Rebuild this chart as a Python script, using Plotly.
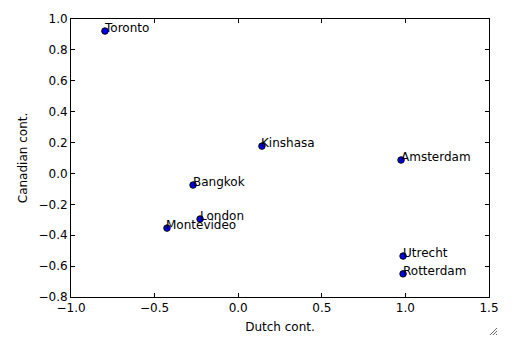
import plotly.graph_objects as go

cities = ["Toronto", "Kinshasa", "Amsterdam", "Bangkok", "London", "Montevideo", "Utrecht", "Rotterdam"]
dutch = [-0.797, 0.142, 0.974, -0.27, -0.228, -0.426, 0.986, 0.986]
canadian = [0.922, 0.177, 0.087, -0.075, -0.295, -0.354, -0.535, -0.65]

x_ticks = [-1.0, -0.5, 0.0, 0.5, 1.0, 1.5]
y_ticks = [-0.8, -0.6, -0.4, -0.2, 0.0, 0.2, 0.4, 0.6, 0.8, 1.0]

font = "DejaVu Sans"

fig = go.Figure()
fig.add_trace(go.Scatter(
    x=dutch, y=canadian, mode="markers",
    marker=dict(color="#0000ff", size=6.5, line=dict(color="black", width=1)),
    showlegend=False, hoverinfo="skip",
))

for c, xv, yv in zip(cities, dutch, canadian):
    fig.add_annotation(x=xv, y=yv, text=c, showarrow=False,
                       xanchor="left", yanchor="bottom", xshift=-2.5, yshift=-6,
                       font=dict(family=font, size=12, color="black"))

axis_common = dict(
    showgrid=False, zeroline=False, showline=True, linecolor="black", linewidth=1,
    mirror="ticks", ticks="inside", ticklen=4, tickcolor="black",
    tickfont=dict(family=font, size=12, color="black"), tickformat=".1f",
)

fig.update_xaxes(range=[-1.0, 1.5], tickvals=x_ticks, **axis_common,
                 title=dict(text="Dutch cont.", font=dict(family=font, size=12, color="black"), standoff=8))
fig.update_yaxes(range=[-0.8, 1.0], tickvals=y_ticks, **axis_common,
                 title=dict(text="Canadian cont.", font=dict(family=font, size=12, color="black"), standoff=8))

# window resize grip decoration (bottom-right corner)
L, T, W, H = 71, 19, 418, 278
def px(x, y):
    return (x - L) / W, (T + H - y) / H
grip = [((497, 328), (490, 335)), ((497, 331), (493, 335)), ((497, 334), (496, 335))]
for (a, b) in grip:
    x0, y0 = px(*a)
    x1, y1 = px(*b)
    fig.add_shape(type="line", xref="paper", yref="paper", x0=x0, y0=y0, x1=x1, y1=y1,
                  line=dict(color="#666666", width=1))

fig.update_layout(
    width=520, height=345,
    margin=dict(l=71, r=31, t=19, b=48),
    paper_bgcolor="white", plot_bgcolor="white",
)

fig.write_html("out.html")
